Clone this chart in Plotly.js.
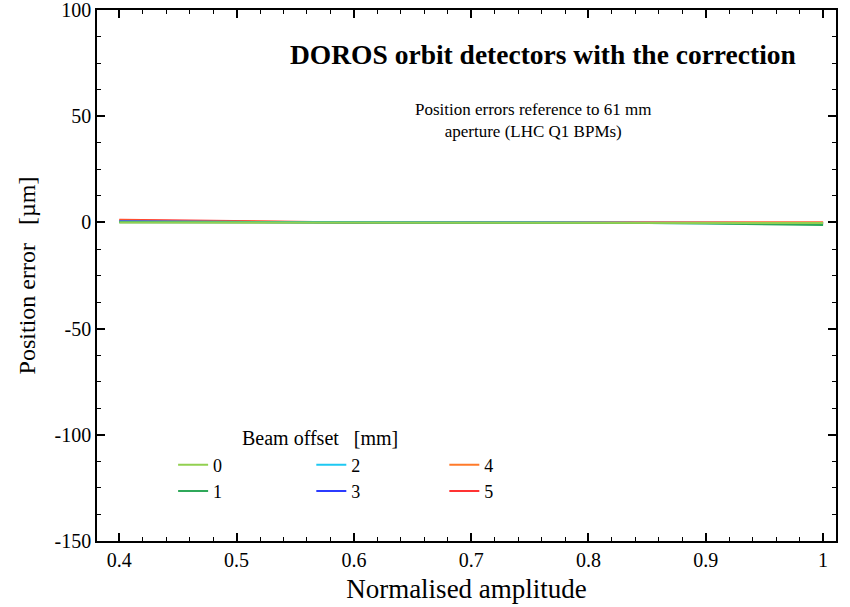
<!DOCTYPE html>
<html>
<head>
<meta charset="utf-8">
<script src="https://cdn.plot.ly/plotly-3.0.1.min.js"></script>
<style>html,body{margin:0;padding:0;background:#fff;}#chart{width:850px;height:607px;}</style>
</head>
<body>
<div id="chart"></div>
<script>
// Normalised amplitude
const amplitude = [0.4, 0.45, 0.5, 0.55, 0.6, 0.65, 0.7, 0.75, 0.8, 0.85, 0.9, 0.95, 1.0];
// Position error [µm] for each beam offset [mm]
const offset0 = [0.0, 0.0, 0.0, 0.0, 0.0, 0.0, 0.0, 0.0, 0.0, 0.0, -0.1, -0.2, -0.3];
const offset1 = [0.1, 0.1, 0.1, 0.0, 0.0, 0.0, 0.0, 0.0, 0.0, -0.2, -0.5, -0.8, -1.2];
const offset2 = [0.3, 0.2, 0.1, 0.1, 0.0, 0.0, 0.0, 0.0, 0.0, -0.2, -0.4, -0.6, -0.8];
const offset3 = [0.6, 0.4, 0.2, 0.1, 0.0, 0.0, 0.0, 0.0, 0.0, 0.0, -0.1, -0.2, -0.3];
const offset4 = [0.9, 0.6, 0.3, 0.1, 0.0, 0.0, 0.0, 0.0, 0.0, 0.0, 0.0, 0.0, 0.0];
const offset5 = [1.3, 0.9, 0.5, 0.2, 0.0, 0.0, 0.0, 0.0, 0.0, 0.0, 0.0, 0.0, 0.0];
const seriesNames = ["0", "1", "2", "3", "4", "5"];
const seriesValues = [offset0, offset1, offset2, offset3, offset4, offset5];
const seriesColors = ["#92d050", "#2fa85a", "#1ec8f2", "#2b3bff", "#ff7a2a", "#ff3333"];
const legendIds = ["legend", "legend", "legend2", "legend2", "legend3", "legend3"];
// Tick labels
const xTickVals = [0.4, 0.5, 0.6, 0.7, 0.8, 0.9, 1.0];
const xTickText = ["0.4", "0.5", "0.6", "0.7", "0.8", "0.9", "1"];
const yTickVals = [-150, -100, -50, 0, 50, 100];
const yTickText = ["-150", "-100", "-50", "0", "50", "100"];

const FONT = "Liberation Serif, Times New Roman, serif";

// drawn with offset 0 on top (last), as in the reference
const traces = [];
for (let i = seriesValues.length - 1; i >= 0; i--) {
  traces.push({
    type: "scatter",
    mode: "lines",
    x: amplitude,
    y: seriesValues[i],
    name: seriesNames[i],
    legend: legendIds[i],
    legendrank: i + 1,
    legendgroup: "g" + i,
    line: {color: seriesColors[i], width: 2},
    hoverinfo: "x+y+name"
  });
}

const legendCommon = {
  orientation: "v",
  bgcolor: "rgba(0,0,0,0)",
  font: {family: FONT, size: 18, color: "#000"},
  tracegroupgap: 0,
  traceorder: "normal",
  yanchor: "top",
  xanchor: "left",
  y: 0.178
};

const axisCommon = {
  showline: true,
  linecolor: "#000",
  linewidth: 1.5,
  mirror: "ticks",
  ticks: "inside",
  ticklen: 8,
  tickwidth: 1.5,
  tickcolor: "#000",
  showgrid: false,
  zeroline: false,
  tickmode: "array",
  ticklabeloverflow: "allow",
  tickfont: {family: FONT, size: 20, color: "#000"}
};

const layout = {
  width: 850,
  height: 607,
  paper_bgcolor: "#fff",
  plot_bgcolor: "#fff",
  margin: {l: 97, r: 14, t: 10, b: 66},
  showlegend: true,
  xaxis: Object.assign({}, axisCommon, {
    range: [0.381, 1.011],
    tickvals: xTickVals,
    ticktext: xTickText,
    minor: {ticks: "inside", tickmode: "linear", dtick: 0.02, tick0: 0.4, ticklen: 4, tickwidth: 1.2, tickcolor: "#000"},
    title: {text: "Normalised amplitude", font: {family: FONT, size: 27, color: "#000"}, standoff: 9}
  }),
  yaxis: Object.assign({}, axisCommon, {
    range: [-150, 100.05],
    tickvals: yTickVals,
    ticktext: yTickText,
    minor: {ticks: "inside", tickmode: "linear", dtick: 12.5, tick0: 0, ticklen: 4, tickwidth: 1.2, tickcolor: "#000"},
    title: {text: "Position error\u00a0\u00a0\u00a0[µm]", font: {family: FONT, size: 24, color: "#000"}, standoff: 12}
  }),
  legend: Object.assign({}, legendCommon, {x: 0.103}),
  legend2: Object.assign({}, legendCommon, {x: 0.29}),
  legend3: Object.assign({}, legendCommon, {x: 0.47}),
  annotations: [
    {
      xref: "paper", yref: "paper", x: 0.604, y: 0.917, xanchor: "center", yanchor: "middle",
      text: "<b>DOROS orbit detectors with the correction</b>", showarrow: false,
      font: {family: FONT, size: 27.5, color: "#000"}
    },
    {
      xref: "paper", yref: "paper", x: 0.59, y: 0.792, xanchor: "center", yanchor: "middle",
      text: "Position errors reference to 61 mm<br>aperture (LHC Q1 BPMs)", showarrow: false,
      font: {family: FONT, size: 17, color: "#000"}
    },
    {
      xref: "paper", yref: "paper", x: 0.302, y: 0.194, xanchor: "center", yanchor: "middle",
      text: "Beam offset\u00a0\u00a0\u00a0[mm]", showarrow: false,
      font: {family: FONT, size: 20, color: "#000"}
    }
  ]
};

Plotly.newPlot("chart", traces, layout, {displayModeBar: false, responsive: false});
</script>
</body>
</html>
